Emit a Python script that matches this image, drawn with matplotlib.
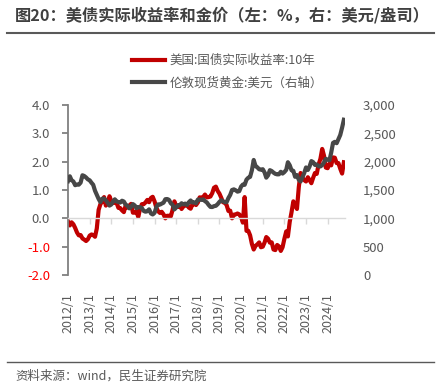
import matplotlib
matplotlib.use("Agg")
import matplotlib.pyplot as plt
from matplotlib.lines import Line2D
import pandas as pd
import numpy as np

plt.rcParams['font.family'] = ['Noto Sans CJK SC', 'DejaVu Sans']

# ---------------- data (monthly, 2012/1 - 2024/10) ----------------
real_yield = [
    # 2012
    -0.11, -0.25, -0.14, -0.21, -0.34, -0.50, -0.60, -0.59, -0.71, -0.75, -0.80, -0.74,
    # 2013
    -0.61, -0.57, -0.59, -0.65, -0.36, 0.30, 0.50, 0.60, 0.75, 0.45, 0.55, 0.78,
    # 2014
    0.61, 0.54, 0.56, 0.54, 0.37, 0.36, 0.28, 0.22, 0.46, 0.38, 0.45, 0.51,
    # 2015
    0.20, 0.20, 0.25, 0.05, 0.33, 0.50, 0.50, 0.56, 0.65, 0.57, 0.72, 0.76,
    # 2016
    0.60, 0.37, 0.25, 0.19, 0.23, 0.14, 0.00, 0.09, 0.09, 0.07, 0.30, 0.60,
    # 2017
    0.42, 0.40, 0.47, 0.33, 0.42, 0.45, 0.49, 0.38, 0.34, 0.49, 0.51, 0.47,
    # 2018
    0.56, 0.74, 0.73, 0.75, 0.84, 0.74, 0.75, 0.77, 0.89, 1.08, 1.12, 0.97,
    # 2019
    0.87, 0.72, 0.57, 0.55, 0.47, 0.26, 0.27, 0.00, 0.13, 0.14, 0.17, 0.14,
    # 2020
    0.04, -0.15, 0.75, -0.44, -0.44, -0.60, -0.90, -1.10, -0.97, -0.92, -0.85, -1.02,
    # 2021
    -1.00, -0.85, -0.66, -0.72, -0.86, -0.85, -1.10, -1.12, -0.94, -0.99, -1.15, -1.02,
    # 2022
    -0.72, -0.46, -0.64, -0.12, 0.21, 0.60, 0.48, 0.33, 1.10, 1.60, 1.44, 1.35,
    # 2023
    1.30, 1.45, 1.35, 1.24, 1.43, 1.60, 1.57, 1.90, 2.10, 2.45, 2.21, 1.79,
    # 2024
    1.77, 1.93, 1.87, 2.15, 2.14, 1.95, 1.95, 1.75, 1.58, 1.98,
]

gold_price = [
    # 2012
    1656, 1742, 1673, 1650, 1585, 1596, 1594, 1630, 1760, 1747, 1721, 1688,
    # 2013
    1671, 1627, 1593, 1487, 1414, 1343, 1286, 1347, 1349, 1316, 1275, 1225,
    # 2014
    1244, 1300, 1336, 1299, 1287, 1279, 1311, 1296, 1239, 1222, 1176, 1202,
    # 2015
    1251, 1227, 1179, 1198, 1199, 1181, 1131, 1117, 1125, 1159, 1086, 1068,
    # 2016
    1097, 1200, 1246, 1242, 1260, 1276, 1337, 1341, 1326, 1267, 1238, 1157,
    # 2017
    1192, 1234, 1231, 1266, 1246, 1260, 1236, 1283, 1315, 1280, 1282, 1265,
    # 2018
    1331, 1331, 1325, 1335, 1304, 1281, 1238, 1202, 1199, 1215, 1221, 1250,
    # 2019
    1291, 1320, 1301, 1286, 1284, 1359, 1413, 1500, 1511, 1495, 1471, 1480,
    # 2020
    1560, 1597, 1592, 1683, 1716, 1732, 1847, 2030, 1921, 1900, 1866, 1858,
    # 2021
    1867, 1808, 1718, 1760, 1850, 1834, 1807, 1785, 1776, 1777, 1821, 1790,
    # 2022
    1817, 1856, 1990, 1937, 1849, 1837, 1733, 1764, 1681, 1650, 1726, 1798,
    # 2023
    1898, 1854, 1913, 2010, 1992, 1942, 1951, 1918, 1916, 1940, 1985, 2050,
    # 2024
    2034, 2024, 2160, 2331, 2350, 2326, 2398, 2471, 2600, 2740,
]

dates = pd.date_range("2012-01-01", periods=len(real_yield), freq="MS")
years = list(range(2012, 2025))
xtick_labels = [f"{y}/1" for y in years]
left_ticks = [-2.0, -1.0, 0.0, 1.0, 2.0, 3.0, 4.0]
right_ticks = [0, 500, 1000, 1500, 2000, 2500, 3000]

label_red = "美国:国债实际收益率:10年"
label_gray = "伦敦现货黄金:美元（右轴）"
title = "图20：美债实际收益率和金价（左：%，右：美元/盎司）"
source = "资料来源：wind，民生证券研究院"

RED = "#C00000"
GRAY = "#474747"
TXT = "#595959"

# ---------------- figure ----------------
W, H = 441, 388
fig = plt.figure(figsize=(W / 100, H / 100), dpi=100)
ax = fig.add_axes([68 / W, 1 - 275 / H, (345 - 68) / W, (275 - 105) / H])
ax2 = ax.twinx()

ax.plot(dates, real_yield, color=RED, lw=3.0, solid_joinstyle='round', zorder=2)
ax2.plot(dates, gold_price, color=GRAY, lw=3.0, solid_joinstyle='round', zorder=3)

ax.set_ylim(-2, 4)
ax2.set_ylim(0, 3000)
ax.set_xlim(pd.Timestamp("2012-01-01"), pd.Timestamp("2024-10-20"))

# spines
for a in (ax, ax2):
    a.spines['top'].set_visible(False)
    a.spines['right'].set_visible(False)
ax2.spines['left'].set_visible(False)
ax2.spines['bottom'].set_visible(False)
ax.spines['left'].set_color("#808080")
ax.spines['left'].set_linewidth(1.3)
ax.spines['bottom'].set_position(('data', 0))
ax.spines['bottom'].set_color("#D9D9D9")
ax.spines['bottom'].set_linewidth(1.0)

ax.tick_params(axis='x', direction='out', length=4, color="#D9D9D9", width=1.0,
               pad=50, labelsize=9, labelcolor=TXT, labelrotation=90)
ax.tick_params(axis='y', direction='out', length=4, color="#808080", width=1.3,
               pad=9, labelsize=9.5)
ax2.tick_params(axis='y', length=0, pad=13, labelsize=9.5, labelcolor=TXT)

ax.set_xticks([pd.Timestamp(f"{y}-01-01") for y in years])
ax.set_xticklabels(xtick_labels)
ax.set_yticks(left_ticks)
ax.set_yticklabels([f"{v:.1f}" for v in left_ticks])
for lab, v in zip(ax.get_yticklabels(), left_ticks):
    lab.set_color("#FF0000" if v < 0 else TXT)
ax2.set_yticks(right_ticks)
ax2.set_yticklabels([f"{v:,}" for v in right_ticks])

# legend
handles = [Line2D([], [], color=RED, lw=3.0), Line2D([], [], color=GRAY, lw=3.0)]
fig.legend(handles, [label_red, label_gray], loc='upper left',
           bbox_to_anchor=(132 / W, 1 - 54 / H), frameon=False, fontsize=9,
           handlelength=2.6, handletextpad=0.4, labelspacing=0.75,
           borderpad=0, borderaxespad=0, labelcolor=TXT)

# title and footer
fig.text(15 / W, 1 - 15 / H, title, fontsize=11.7, fontweight='bold', color="#404040",
         ha='left', va='center')
fig.add_artist(Line2D([7 / W, 434 / W], [1 - 33 / H, 1 - 33 / H], color="#595959", lw=1.5))
fig.add_artist(Line2D([7 / W, 434 / W], [1 - 362 / H, 1 - 362 / H], color="#595959", lw=1.0))
fig.text(15 / W, 1 - 376 / H, source, fontsize=9, color=TXT, ha='left', va='center')

fig.savefig("out.png", dpi=100)
